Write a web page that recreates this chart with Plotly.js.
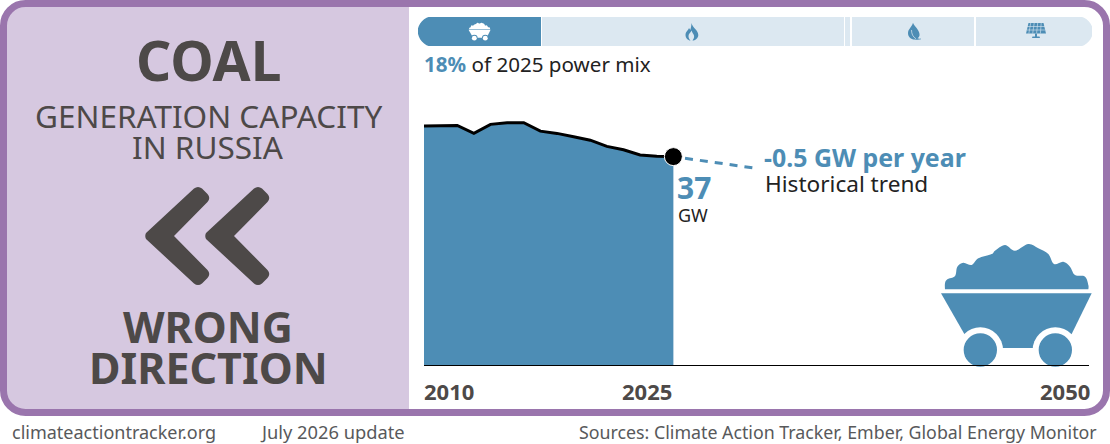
<!DOCTYPE html>
<html>
<head>
<meta charset="utf-8">
<script src="https://cdn.plot.ly/plotly-3.0.1.min.js"></script>
<style>html,body{margin:0;padding:0;background:#fff}#chart{width:1110px;height:444px}</style>
</head>
<body>
<div id="chart"></div>
<script>
// ---- data ----
const years = [2010,2011,2012,2013,2014,2015,2016,2017,2018,2019,2020,2021,2022,2023,2024,2025];
const capacityGW = [42.4,42.4,42.5,41.1,42.7,43.0,43.0,41.5,41.1,40.5,39.9,38.8,38.2,37.3,37.05,37.0];
const trendYears = [2025.7,2029.8];
const trendGW = [36.7,35.0];
const lastYear = [2025];
const lastGW = [37];
const mixSources = ['Coal','Gas','Oil','Hydro and other','Solar and wind'];
const mixShares = [18.3,44.9,1.0,18.3,17.5];
const mixColors = ['#4d8db5','#dce8f1','#dce8f1','#dce8f1','#dce8f1'];

// ---- helpers ----
const W = 1110, H = 444;
const BLUE = '#4d8db5', LIGHT = '#dce8f1', PURPLE = '#9a75ad', PANEL = '#d6c8e0', DARK = '#4d4948', GREY = '#58595b', INK = '#222222';
const FONT = '"Noto Sans", sans-serif';
const path = s => s.replace(/(-?[\d.]+),(-?[\d.]+)/g, (m, a, b) => (a / W) + ',' + (1 - b / H));
const shapes = [];
const addPath = (d, fill, line) => shapes.push({type:'path', xref:'paper', yref:'paper', layer:'above', path:path(d),
  fillcolor:fill || 'rgba(0,0,0,0)', line: line || {width:0}});
const addCircle = (cx, cy, r, fill) => shapes.push({type:'circle', xref:'paper', yref:'paper', layer:'above',
  x0:(cx-r)/W, x1:(cx+r)/W, y0:1-(cy+r)/H, y1:1-(cy-r)/H, fillcolor:fill, line:{width:0}});
function rrect(x0,y0,x1,y1,r0,r1){ // r0 left corners, r1 right corners
  const k=0.45;
  return `M${x0+r0},${y0} L${x1-r1},${y0} C${x1-r1*k},${y0} ${x1},${y0+r1*k} ${x1},${y0+r1} L${x1},${y1-r1} C${x1},${y1-r1*k} ${x1-r1*k},${y1} ${x1-r1},${y1} L${x0+r0},${y1} C${x0+r0*k},${y1} ${x0},${y1-r0*k} ${x0},${y1-r0} L${x0},${y0+r0} C${x0},${y0+r0*k} ${x0+r0*k},${y0} ${x0+r0},${y0} Z`;
}
function cart(ox, oy, s, color, bg){
  const p = (x,y) => (ox+x*s).toFixed(2)+','+(oy+y*s).toFixed(2);
  // outline of the coal pile, smoothed with a curve through its points
  const pile = [[75,178],[75,160],[82,148],[105,138],[112,110],[130,98],[155,105],[175,85],[215,72],[225,62],[255,45],[285,62],[325,42],[355,55],[385,72],[402,102],[430,95],[450,110],[465,135],[495,140],[505,165],[505,178]];
  let d = 'M'+p(pile[0][0],pile[0][1]);
  for (let i=0;i<pile.length-1;i++){
    const a=pile[Math.max(i-1,0)], b=pile[i], c=pile[i+1], e=pile[Math.min(i+2,pile.length-1)];
    d += ' C'+p(b[0]+(c[0]-a[0])/6,b[1]+(c[1]-a[1])/6)+' '+p(c[0]-(e[0]-b[0])/6,c[1]-(e[1]-b[1])/6)+' '+p(c[0],c[1]);
  }
  d += ' Z';
  addPath(d, color);
  const body = [[63,190],[515,190],[455,312],[400,354],[180,354],[133,312]];
  addPath('M'+body.map(q=>p(q[0],q[1])).join(' L')+' Z', color);
  [181,406].forEach(cx=>{
    addCircle(ox+cx*s, oy+360*s, 68*s, bg);
    addCircle(ox+cx*s, oy+360*s, 50*s, color);
  });
}

// left panel
addPath(rrect(3.5,3.5,409,412.5,22,0), PANEL);
// chevrons
[0,60].forEach(d=>{
  const x=v=>v+d;
  addPath(`M${x(146)},233 L${x(194)},188.5 Q${x(198)},185.5 ${x(202)},188.5 L${x(207.5)},194 Q${x(211)},198 ${x(207.5)},202 L${x(174)},236 L${x(207.5)},270 Q${x(211)},274 ${x(207.5)},278 L${x(202)},283.5 Q${x(198)},286.5 ${x(194)},283.5 L${x(146)},239 Q${x(144.5)},236 ${x(146)},233 Z`, DARK);
});
// corner masks of the power-mix bar
const bx0=417.7, bx1=1093, by0=16.5, by1=46.5, br=14.5;
addPath(`M${bx0-1},${by0-1} L${bx0+br},${by0-1} L${bx0+br},${by0} C${bx0+br*0.45},${by0} ${bx0},${by0+br*0.55} ${bx0},${by0+br} C${bx0},${by1-br*0.55} ${bx0+br*0.45},${by1} ${bx0+br},${by1} L${bx0+br},${by1+1} L${bx0-1},${by1+1} Z`, '#ffffff');
addPath(`M${bx1+1},${by0-1} L${bx1-br},${by0-1} L${bx1-br},${by0} C${bx1-br*0.45},${by0} ${bx1},${by0+br*0.55} ${bx1},${by0+br} C${bx1},${by1-br*0.55} ${bx1-br*0.45},${by1} ${bx1-br},${by1} L${bx1-br},${by1+1} L${bx1+1},${by1+1} Z`, '#ffffff');
// mix icons
cart(465.5, 20.6, 0.0487, '#ffffff', BLUE);
addPath('M691.5,23 C692.5,28 698.3,30 698.3,35 C698.3,38.5 695,40.5 692.5,40.5 C693.5,39 694.5,37.5 694,35.5 C693.5,33.5 692,33 691.7,30.5 C690.5,32.5 688.5,34 688.5,36 C688.5,38 689.5,39.5 690.5,40.5 C688,40.5 685.5,38 685.5,35 C685.5,31.5 688,30.5 689,28 C689.8,29 690,29.5 690.3,30 C690.8,28 691.5,25.5 691.5,23 Z', BLUE);
addPath('M913,22.7 C914,26 919,29 919.5,34 C919.8,36 919,37.5 917.5,38.3 C918.5,38.8 920,38.8 921,38.5 L921,39.3 C919,40 916.5,39.8 914.5,39.5 C911,39.5 908,37 908,33 C908,29 912,27 913,22.7 Z', BLUE);
addPath('M911.5,30 C911.5,34 913,37 916,38.8', 'rgba(0,0,0,0)', {width:0.7,color:LIGHT});
addPath('M1028.5,23 L1043.5,23 L1046,33.5 L1026,33.5 Z', BLUE);
[1031.5,1035,1038.5,1042].forEach((v,i)=>{
  addPath(`M${v-0.8},23 L${v-1.6-(3-i)*0.35},33.5`, 'rgba(0,0,0,0)', {width:0.6,color:LIGHT});
});
[26.5,30].forEach(v=>addPath(`M1027,${v} L1045,${v}`, 'rgba(0,0,0,0)', {width:0.6,color:LIGHT}));
addPath('M1035,33.5 L1037,33.5 L1037,36.5 L1039.5,36.5 L1040,38 L1032,38 L1032.5,36.5 L1035,36.5 Z', BLUE);
// big cart
cart(920, 230, 1/3, BLUE, '#ffffff');
// baseline
shapes.push({type:'line', xref:'x', yref:'y', layer:'above', x0:2010, x1:2050, y0:0, y1:0, line:{color:'#000000', width:2}});
// frame
addPath(rrect(3.5,3.5,1106.5,412.5,22,22), 'rgba(0,0,0,0)', {color:PURPLE, width:7});

// ---- traces ----
const traces = [
  {x:years, y:capacityGW, type:'scatter', mode:'lines', fill:'tozeroy', fillcolor:BLUE, line:{color:'#000000', width:3}, hoverinfo:'skip', showlegend:false},
  {x:trendYears, y:trendGW, type:'scatter', mode:'lines', line:{color:BLUE, width:3, dash:'8px,7px'}, hoverinfo:'skip', showlegend:false},
  {x:lastYear, y:lastGW, type:'scatter', mode:'markers', marker:{color:'#000000', size:18, line:{color:'#ffffff', width:1}}, hoverinfo:'skip', showlegend:false, cliponaxis:false}
];
mixSources.forEach((name,i)=>traces.push({
  type:'bar', orientation:'h', name:name, x:[mixShares[i]], y:[0], xaxis:'x2', yaxis:'y2',
  marker:{color:mixColors[i], line:{color:'#ffffff', width:1.5}}, hoverinfo:'skip', showlegend:false
}));

// ---- text ----
const note = (text, x, y, size, color, anchor) => ({
  text, xref:'paper', yref:'paper', x:x/W, y:1-y/H, xanchor:anchor||'center', yanchor:'middle',
  showarrow:false, font:{family:FONT, size, color}, align:anchor||'center'
});
const annotations = [
  note('<b>COAL</b>', 208, 60, 55, DARK),
  note('GENERATION CAPACITY', 208, 115, 31.5, DARK),
  note('IN RUSSIA', 208, 146, 31.5, DARK),
  note('<b>WRONG</b>', 208, 326, 43, DARK),
  note('<b>DIRECTION</b>', 208, 367, 43, DARK),
  note('<span style="color:'+BLUE+'"><b>18%</b></span> of 2025 power mix', 422, 64, 20.6, INK, 'left'),
  note('<b>-0.5 GW per year</b>', 762, 157, 24.9, BLUE, 'left'),
  note('Historical trend', 763, 183.5, 22.6, INK, 'left'),
  note('<b>37</b>', 675, 187, 30, BLUE, 'left'),
  note('GW', 676, 215, 18, INK, 'left'),
  note('<b>2010</b>', 422, 391, 22, DARK, 'left'),
  note('<b>2025</b>', 674, 391, 22, DARK, 'right'),
  note('<b>2050</b>', 1092, 391, 22, DARK, 'right'),
  note('climateactiontracker.org', 10, 432, 18, GREY, 'left'),
  note('July 2026 update', 258, 431.5, 18.3, GREY, 'left'),
  note('Sources: Climate Action Tracker, Ember, Global Energy Monitor', 1099, 431.5, 17.8, GREY, 'right')
];

const layout = {
  width:W, height:H, margin:{l:0,r:0,t:0,b:0,pad:0}, paper_bgcolor:'#ffffff', plot_bgcolor:'rgba(0,0,0,0)',
  showlegend:false, barmode:'stack', bargap:0,
  xaxis:{domain:[424/W,1089/W], range:[2010,2050], visible:false, fixedrange:true},
  yaxis:{domain:[1-366/H,1-100/H], range:[0,47], visible:false, fixedrange:true},
  xaxis2:{domain:[417.7/W,1093/W], range:[0,100], visible:false, anchor:'y2', fixedrange:true},
  yaxis2:{domain:[1-47/H,1-16/H], range:[-0.5,0.5], visible:false, anchor:'x2', fixedrange:true},
  shapes, annotations
};
Plotly.newPlot('chart', traces, layout, {displayModeBar:false, staticPlot:true});
</script>
</body>
</html>
